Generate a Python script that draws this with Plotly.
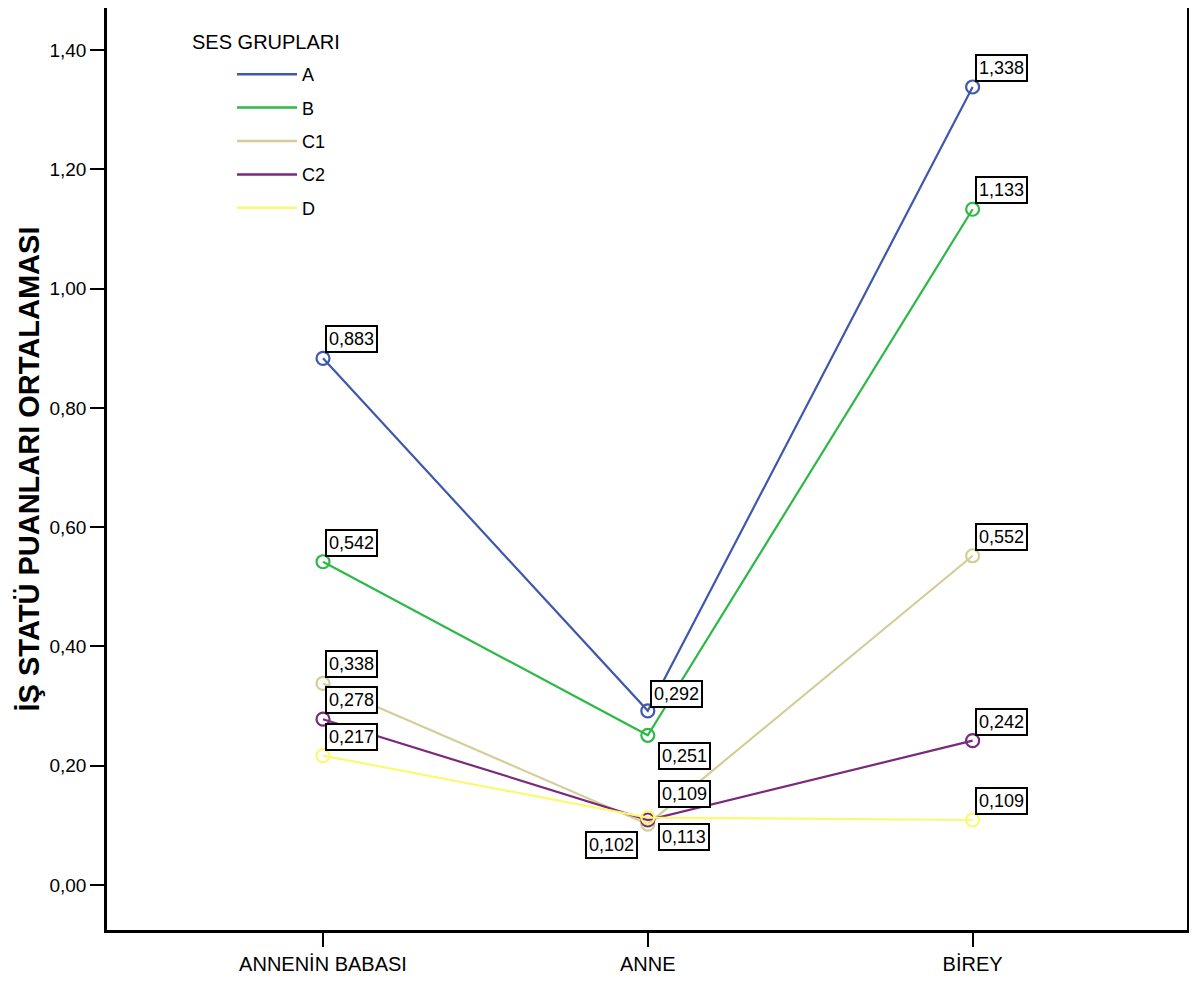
import plotly.graph_objects as go

categories = ["ANNENİN BABASI", "ANNE", "BİREY"]
groups = ["A", "B", "C1", "C2", "D"]
values_A = [0.883, 0.292, 1.338]
values_B = [0.542, 0.251, 1.133]
values_C1 = [0.338, 0.102, 0.552]
values_C2 = [0.278, 0.109, 0.242]
values_D = [0.217, 0.113, 0.109]
series = [values_A, values_B, values_C1, values_C2, values_D]
y_ticks = [0.0, 0.2, 0.4, 0.6, 0.8, 1.0, 1.2, 1.4]

colors = ["#3E58AC", "#2EB848", "#D3CE97", "#7C287D", "#FBF873"]

# label placement (xanchor, yanchor, xshift, yshift) per series / category
default_pos = ("left", "bottom", 2, 5)
special_pos = {
    (0, 1): ("left", "bottom", 2, 3),
    (1, 1): ("left", "top", 10, -7),
    (2, 1): ("right", "top", -10, -7),
    (3, 1): ("left", "bottom", 10, 12),
    (4, 1): ("left", "top", 10, -5),
}

REG = "Liberation Sans, Arial, sans-serif"

fig = go.Figure()
for i, (g, vals) in enumerate(zip(groups, series)):
    fig.add_trace(go.Scatter(
        x=categories, y=vals, mode="lines+markers", name=g,
        line=dict(color=colors[i], width=2.2),
        marker=dict(symbol="circle-open", size=13, color=colors[i], line=dict(width=2.2, color=colors[i])),
        showlegend=False,
    ))
for i, g in enumerate(groups):
    fig.add_trace(go.Scatter(
        x=[None], y=[None], mode="lines", name=g,
        line=dict(color=colors[i], width=2.5), showlegend=True, legendgroup=g,
    ))

annotations = []
for i, vals in enumerate(series):
    for j, v in enumerate(vals):
        xa, ya, xs, ys = special_pos.get((i, j), default_pos)
        annotations.append(dict(
            x=categories[j], y=v, xref="x", yref="y",
            text=f"{v:.3f}".replace(".", ","), showarrow=False,
            xanchor=xa, yanchor=ya, xshift=xs, yshift=ys,
            font=dict(family=REG, size=18, color="black"),
            bgcolor="white", bordercolor="black", borderwidth=2, borderpad=2,
        ))

# page body has an 8px margin; figure sized so that it fits the window
OFF = 8
W, H = 1197 - OFF, 981 - OFF
L, R, T, B = 107 - OFF, 10, 0, 981 - 930
pw, ph = W - L - R, H - T - B

def px_x(px):
    return (px - OFF - L) / pw

def px_y(py):
    return 1 - (py - OFF - T) / ph

annotations.append(dict(
    x=px_x(190), y=px_y(42), xref="paper", yref="paper", text="SES GRUPLARI",
    showarrow=False, xanchor="left", yanchor="middle",
    font=dict(family=REG, size=20, color="black"),
))

# y scale: 0 at 885 px, 1.40 at 50 px (screen)
per_unit = (885 - 50) / 1.4
y_lo = -(930 - 885) / per_unit
y_hi = 1.4 + (50 - (T + OFF)) / per_unit

fig.update_layout(
    width=W, height=H,
    margin=dict(l=L, r=R, t=T, b=B),
    paper_bgcolor="white", plot_bgcolor="white",
    separators=",.",
    annotations=annotations,
    showlegend=True,
    legend=dict(
        x=px_x(232), y=px_y(56), xanchor="left", yanchor="top",
        font=dict(family=REG, size=18, color="black"),
        bgcolor="rgba(0,0,0,0)", tracegroupgap=7, itemwidth=60,
    ),
    xaxis=dict(
        type="category", range=[-0.665, 2.66], automargin=False,
        showline=True, linecolor="black", linewidth=2.5, mirror=True,
        ticks="outside", ticklen=14, tickwidth=2, tickcolor="black",
        showgrid=False, zeroline=False,
        tickfont=dict(family=REG, size=20, color="black"),
    ),
    yaxis=dict(
        range=[y_lo, y_hi], tickvals=y_ticks, tickformat=".2f", automargin=False,
        showline=True, linecolor="black", linewidth=2.5, mirror=True,
        ticks="outside", ticklen=14, tickwidth=2, tickcolor="black",
        showgrid=False, zeroline=False,
        tickfont=dict(family=REG, size=19, color="black"),
        title=dict(text="<b>İŞ STATÜ PUANLARI ORTALAMASI</b>", standoff=2,
                   font=dict(family=REG, size=29, color="black")),
    ),
)

fig.write_html("out.html")
